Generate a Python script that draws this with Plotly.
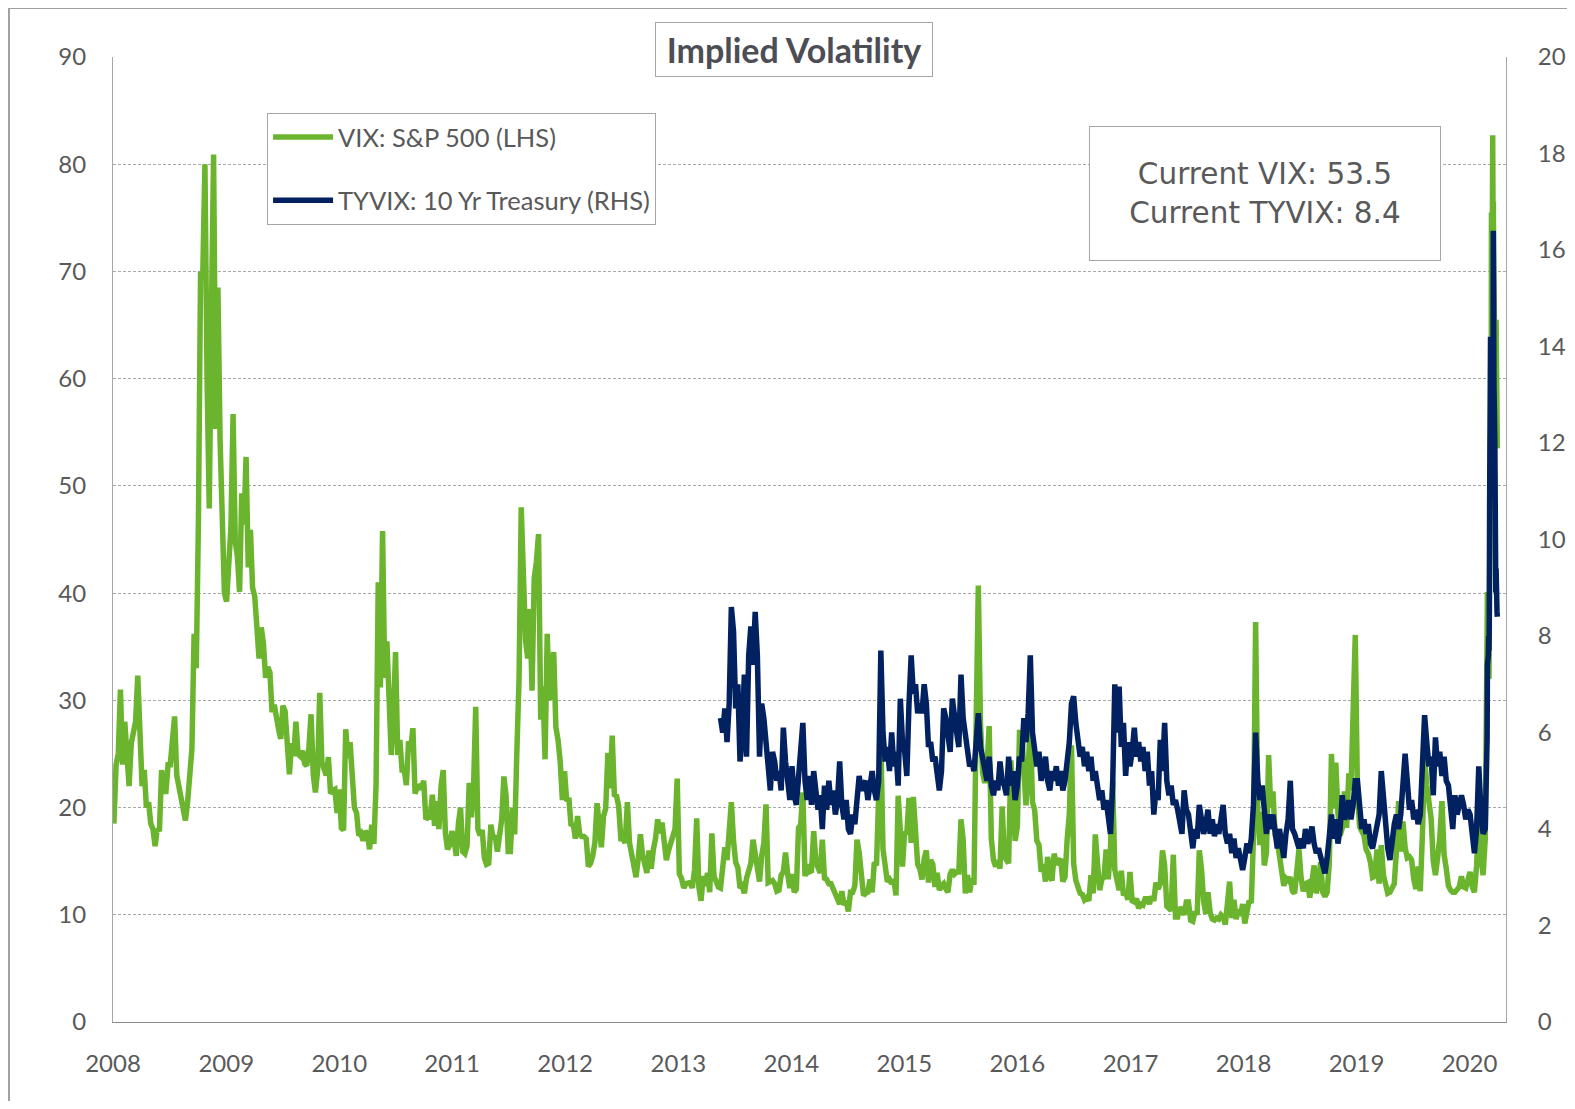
import pandas as pd
import plotly.graph_objects as go

# ---------------- data (weekly Friday readings; daily during the 2020 spike) ----------------
vix_2008 = [18.5, 24, 25, 31,
            24, 28, 25, 22, 26,
            27, 28, 32.3, 26,
            22, 23.5, 20, 20.5,
            18.5, 18, 16.4, 18, 17.8,
            23.5, 21.5, 21.5, 24,
            24, 26, 28.5, 23,
            22, 21, 20, 18.8, 20.5,
            22.5, 25.5, 36.2, 33,
            46.7, 70, 69.5, 80, 59.9,
            47.9, 66, 80.9, 55.3,
            68.5, 54.3, 45, 40]
vix_2009 = [39.2, 42.8, 46.1, 56.7, 44.8,
            43.4, 40.1, 49.3, 46.4,
            52.7, 42.4, 45.9, 40.5,
            39.7, 36.5, 33.9, 36.8,
            35.3, 32.1, 33.1, 32.6, 28.9,
            29.6, 28.2, 27.3, 26.4,
            29.5, 29.0, 25.0, 23.1, 26.0,
            24.8, 28.0, 25.0, 24.8,
            25.3, 24.1, 23.9, 25.6,
            28.7, 23.1, 21.4, 23.4, 30.7,
            24.2, 23.4, 23.0, 24.7,
            21.3, 21.6, 21.7, 19.5]
vix_2010 = [21.7, 18.1, 17.9, 27.3, 24.6,
            26.1, 22.7, 20.0, 19.5,
            17.4, 17.6, 16.9, 17.8,
            17.5, 16.1, 18.4, 16.6, 22.1,
            41.0, 31.2, 45.8, 32.1,
            35.5, 28.6, 24.9, 28.5,
            34.5, 24.9, 26.3, 23.5, 23.5,
            22.1, 26.2, 25.5, 27.4,
            21.3, 21.9, 22.0, 21.7,
            22.5, 18.9, 19.1, 19.1, 21.2,
            18.3, 20.6, 18.0, 22.0,
            23.5, 17.6, 16.1, 16.5, 17.8]
vix_2011 = [17.1, 15.5, 18.5, 20.0,
            15.9, 15.7, 16.4, 22.3,
            19.1, 21.9, 29.4, 18.0,
            17.4, 17.9, 15.3, 14.7, 14.8,
            18.4, 17.1, 17.4, 15.9,
            17.9, 18.9, 22.9, 21.1,
            15.9, 15.9, 20.0, 17.5, 25.3,
            32.0, 48.0, 43.1, 35.6,
            33.9, 38.5, 30.9, 41.4, 42.9,
            45.5, 28.2, 31.3, 24.5,
            36.2, 30.0, 32.8, 34.5,
            27.5, 26.3, 24.3, 20.7, 23.4]
vix_2012 = [20.6, 20.9, 18.3, 18.5,
            17.1, 19.2, 17.5, 17.3,
            17.3, 17.1, 14.5, 14.8, 15.5,
            16.7, 20.4, 18.4, 16.3,
            19.2, 19.9, 25.1, 21.8,
            26.7, 21.2, 21.1, 20.1, 17.1,
            17.1, 16.7, 20.5, 16.7,
            15.6, 14.7, 13.5, 15.2, 17.5,
            15.6, 14.5, 13.9, 16.0,
            14.3, 16.1, 17.1, 18.9,
            17.6, 18.6, 17.0, 15.1, 16.0,
            16.6, 17.0, 18.0, 22.7]
vix_2013 = [13.8, 13.4, 12.5, 12.9,
            12.9, 13.0, 12.5, 14.2,
            19.0, 12.6, 11.3, 13.6, 12.7,
            13.9, 12.1, 17.6, 13.6,
            12.9, 12.6, 12.5, 14.0, 16.3,
            15.1, 17.2, 20.5, 16.9,
            14.9, 14.4, 12.5, 12.7,
            12.0, 13.4, 14.4, 14.8, 17.0,
            15.4, 14.2, 13.1, 15.5,
            16.7, 20.3, 13.0, 13.1,
            13.2, 12.9, 12.2, 12.3, 13.7,
            14.0, 15.8, 13.8, 12.5]
vix_2014 = [13.8, 12.1, 12.4, 18.1, 18.4,
            21.4, 13.6, 14.7, 14.0,
            14.1, 17.8, 15.0, 14.4,
            13.9, 17.0, 13.4, 13.3,
            12.9, 12.9, 12.4, 12.0, 11.4,
            11.0, 12.2, 10.9, 11.3,
            10.3, 12.1, 12.1, 12.7,
            17.0, 15.8, 13.2, 11.8, 12.0,
            12.1, 13.3, 12.1, 14.9,
            14.6, 21.2, 26.3, 16.1, 14.0,
            13.1, 13.3, 12.9, 13.3,
            11.8, 21.1, 16.5, 14.5]
vix_2015 = [17.8, 17.6, 20.9, 16.7, 21.0,
            17.3, 14.7, 14.3, 13.3,
            15.2, 16.0, 13.0, 15.1,
            14.7, 12.6, 13.9, 12.3,
            12.7, 12.9, 12.4, 12.1, 13.8,
            14.2, 13.8, 14.0, 14.0,
            18.9, 17.0, 12.0, 13.7, 12.1,
            13.4, 12.8, 28.0, 40.7,
            27.8, 23.2, 22.3, 23.6,
            27.6, 17.1, 15.1, 14.5, 15.1,
            14.3, 20.1, 15.5, 15.1,
            14.8, 24.4, 20.7, 16.9]
vix_2016 = [18.2, 27.0, 27.0, 22.3, 20.2,
            23.4, 28.1, 20.5, 19.8,
            16.9, 16.5, 14.0, 14.7,
            13.1, 15.4, 13.6, 13.2, 15.7,
            14.7, 15.0, 15.2, 13.1,
            13.5, 17.0, 19.4, 25.8,
            14.8, 13.2, 12.7, 12.0, 11.9,
            11.4, 11.6, 11.3, 13.7,
            12.0, 17.5, 15.4, 12.3, 13.3,
            13.5, 16.1, 13.3, 16.2,
            22.5, 14.2, 12.9, 12.3,
            14.1, 11.8, 12.2, 11.4, 14.0]
vix_2017 = [11.3, 11.2, 11.5, 10.6,
            11.0, 10.9, 11.5, 11.5,
            11.0, 11.7, 11.3, 13.0, 12.4,
            12.9, 16.0, 14.6, 10.8,
            10.6, 10.4, 15.6, 9.8,
            9.8, 10.7, 10.4, 10.0, 11.2,
            11.2, 9.5, 9.4, 10.3,
            10.0, 16.0, 14.3, 11.3,
            10.1, 12.1, 10.2, 9.6, 9.5,
            9.7, 9.6, 10.0, 9.8,
            9.1, 11.3, 13.1, 9.7,
            11.4, 9.6, 10.5, 9.9, 11.0]
vix_2018 = [9.2, 10.2, 11.3, 11.1,
            17.3, 37.3, 19.5, 16.5,
            19.6, 14.6, 15.8, 24.9, 20.0,
            21.5, 17.4, 16.9, 15.4,
            14.8, 12.7, 13.4, 13.2,
            13.5, 12.2, 12.0, 13.8, 16.1,
            13.4, 12.2, 12.9, 13.0,
            11.6, 13.2, 14.6, 12.0, 12.9,
            14.9, 12.1, 11.7, 12.1,
            14.8, 25.0, 19.9, 24.2,
            19.5, 17.4, 18.1, 21.5, 18.1,
            23.2, 21.6, 30.1, 36.1]
vix_2019 = [21.4, 18.2, 17.8, 17.4,
            16.1, 15.7, 14.9, 13.5,
            13.6, 16.1, 12.9, 16.5, 13.7,
            12.8, 12.0, 12.1, 12.7,
            12.9, 16.0, 20.6, 15.9, 18.7,
            16.3, 15.3, 15.4, 15.1,
            13.3, 12.4, 14.5, 12.2,
            17.6, 24.6, 22.1, 19.9, 19.0,
            15.0, 13.7, 15.3, 17.2,
            20.6, 15.6, 14.3, 12.7,
            12.3, 12.1, 12.1, 12.3, 12.6,
            13.6, 12.6, 12.5, 13.4]
vix_2020_weekly = [14.0, 12.6, 12.1, 14.6, 18.8, 15.5, 13.7, 17.1]
vix_2020_daily = [25.0, 27.9, 27.6, 39.2, 40.1,
                  33.4, 36.8, 32.0, 39.6, 41.9,
                  54.5, 47.3, 53.9, 75.5, 57.8,
                  82.7, 75.9, 76.5, 72.0, 66.0,
                  61.6, 61.7, 64.0, 61.0, 65.5,
                  57.1, 53.5]

tyvix_2013 = [6.3, 6.0, 6.5,
              5.8, 6.6, 8.6, 8.1,
              6.5, 7.0, 5.4, 6.0,
              7.2, 5.5, 7.6, 8.2, 7.4,
              8.5, 7.6, 5.5, 6.6,
              6.3, 5.7, 5.1, 4.8,
              5.6, 5.4, 5.0, 5.2, 4.8,
              6.1, 5.4, 5.0, 4.6]
tyvix_2014 = [5.3, 4.7, 4.5, 5.0, 5.6,
              6.2, 5.0, 4.6, 5.1,
              4.5, 5.2, 4.8, 4.4,
              4.7, 4.0, 4.9, 4.4,
              5.0, 4.5, 4.8, 4.3, 4.6,
              5.4, 4.5, 4.2, 4.6,
              4.0, 3.9, 4.3, 4.1,
              4.6, 5.1, 4.8, 4.9, 5.0,
              4.6, 5.0, 5.2, 4.8,
              4.6, 5.0, 7.7, 6.0, 5.4,
              5.7, 5.2, 6.0, 5.3,
              5.6, 4.9, 6.7, 5.8]
tyvix_2015 = [5.6, 5.1, 6.6, 7.6, 6.8,
              7.0, 6.4, 6.6, 6.4,
              7.0, 6.6, 5.7, 5.8,
              5.4, 5.5, 5.0, 4.8,
              5.2, 6.5, 6.3, 5.8, 5.6,
              6.7, 6.2, 6.0, 5.7,
              7.2, 6.3, 5.9, 5.5, 5.3,
              5.4, 5.2, 5.8, 6.4,
              5.7, 5.5, 5.3, 5.0,
              5.5, 4.9, 4.7, 5.0, 4.8,
              5.4, 5.0, 4.9, 4.7,
              5.5, 4.9, 5.2, 4.6]
tyvix_2016 = [4.9, 5.5, 5.4, 6.3, 5.8,
              6.4, 7.6, 6.0, 5.6,
              5.3, 5.6, 5.0, 5.2,
              5.5, 5.0, 4.8, 5.2, 5.0,
              5.3, 4.9, 5.2, 4.8,
              5.0, 5.4, 5.8, 6.6,
              6.75, 6.2, 5.8, 5.5, 5.7,
              5.3, 5.6, 5.2, 5.5,
              5.0, 5.2, 4.9, 4.6, 4.8,
              4.4, 4.6, 4.3, 3.9,
              4.9, 7.0, 6.0, 6.95,
              5.7, 6.2, 5.1, 5.8, 5.3]
tyvix_2017 = [5.6, 6.1, 5.5, 5.8,
              5.4, 5.7, 5.2, 5.6,
              4.9, 5.2, 4.3, 4.8, 4.6,
              5.85, 5.2, 6.2, 5.0,
              4.7, 4.9, 4.5, 4.6,
              4.4, 4.2, 3.9, 4.8, 4.4,
              4.3, 3.9, 3.6, 4.0,
              3.8, 4.5, 4.2, 3.9,
              4.1, 4.4, 3.9, 4.2, 3.85,
              4.1, 3.9, 4.3, 4.5,
              3.9, 3.7, 3.9, 3.5,
              3.8, 3.4, 3.6, 3.3, 3.15]
tyvix_2018 = [3.4, 3.7, 3.5, 3.8,
              4.5, 6.0, 5.0, 4.6,
              4.9, 4.2, 3.9, 4.3, 4.0,
              4.3, 3.8, 3.6, 4.0,
              3.6, 3.4, 3.9, 4.2,
              5.0, 4.0, 3.9, 3.7, 3.6,
              3.8, 3.6, 4.0, 3.7,
              3.8, 4.05, 3.7, 3.5, 3.6,
              3.4, 3.2, 3.08, 3.4,
              3.9, 4.3, 3.8, 4.2,
              3.7, 4.0, 4.7, 4.2, 4.3,
              4.6, 4.2, 4.5, 5.0]
tyvix_2019 = [5.0, 4.5, 4.0, 4.2,
              3.9, 4.1, 3.7, 3.6,
              3.8, 4.0, 4.3, 5.2, 4.6,
              4.0, 3.6, 3.36, 3.9,
              4.1, 4.3, 4.0, 4.3, 4.8,
              5.56, 5.0, 4.4, 4.6,
              4.2, 4.4, 4.1, 4.3,
              5.3, 6.36, 5.8, 5.3, 5.5,
              4.7, 5.9, 5.3, 5.6,
              5.1, 5.5, 5.0, 4.9,
              4.5, 4.0, 4.7, 4.3, 4.5,
              4.7, 4.5, 4.2, 4.4]
tyvix_2020_weekly = [4.3, 3.9, 3.5, 4.0, 5.3, 4.4, 3.9, 4.0]
tyvix_2020_daily = [4.7, 5.0, 5.1, 5.9, 7.4,
                    7.6, 8.0, 7.7, 8.4, 10.7,
                    14.2, 11.8, 11.0, 13.0, 11.5,
                    14.0, 13.0, 16.4, 15.0, 13.2,
                    12.0, 10.0, 9.5, 8.9, 9.4,
                    8.5, 8.4]

year_ticks = list(range(2008, 2021))
vix_years = {2008: vix_2008, 2009: vix_2009, 2010: vix_2010, 2011: vix_2011,
             2012: vix_2012, 2013: vix_2013, 2014: vix_2014, 2015: vix_2015,
             2016: vix_2016, 2017: vix_2017, 2018: vix_2018, 2019: vix_2019}
tyvix_years = {2014: tyvix_2014, 2015: tyvix_2015, 2016: tyvix_2016,
               2017: tyvix_2017, 2018: tyvix_2018, 2019: tyvix_2019}


def weekly(start, n):
    return list(pd.date_range(start, periods=n, freq="W-FRI"))


# ---------------- build series ----------------
vix_x, vix_y = [], []
for yr, vals in vix_years.items():
    vix_x += weekly(f"{yr}-01-01", len(vals))
    vix_y += vals
vix_x += weekly("2020-01-01", len(vix_2020_weekly))
vix_y += vix_2020_weekly
vix_x += list(pd.bdate_range("2020-02-24", periods=len(vix_2020_daily)))
vix_y += vix_2020_daily

ty_x = weekly("2013-05-17", len(tyvix_2013))
ty_y = list(tyvix_2013)
for yr, vals in tyvix_years.items():
    ty_x += weekly(f"{yr}-01-01", len(vals))
    ty_y += vals
ty_x += weekly("2020-01-01", len(tyvix_2020_weekly))
ty_y += tyvix_2020_weekly
ty_x += list(pd.bdate_range("2020-02-24", periods=len(tyvix_2020_daily)))
ty_y += tyvix_2020_daily

GREEN = "#6BB42D"
NAVY = "#022160"
GRID = "#A6A6A6"
TXT = "#595959"

fig = go.Figure()
fig.add_trace(go.Scatter(x=vix_x, y=vix_y, mode="lines", name="VIX: S&P 500 (LHS)",
                         line=dict(color=GREEN, width=5.5), legendgroup="a"))
fig.add_trace(go.Scatter(x=ty_x, y=ty_y, mode="lines", name="TYVIX: 10 Yr Treasury (RHS)",
                         line=dict(color=NAVY, width=5.5), yaxis="y2", legendgroup="b"))

tickfont = dict(family="Lato, Open Sans, sans-serif", size=24, color=TXT)

# the page body has an 8px default margin, so the figure is sized/offset to compensate
fig.update_layout(
    width=1559, height=1093,
    margin=dict(l=105, r=61, t=49, b=79),
    paper_bgcolor="white", plot_bgcolor="white",
    showlegend=True,
    legend=dict(x=0.1106, y=0.942, xanchor="left", yanchor="top",
                bgcolor="white", bordercolor=GRID, borderwidth=1,
                font=dict(family="Lato, Open Sans, sans-serif", size=25.5, color=TXT),
                traceorder="grouped", tracegroupgap=27, itemwidth=60),
    xaxis=dict(type="date", range=["2008-01-01", "2020-04-28"],
               tickvals=[f"{y}-01-01" for y in year_ticks], ticktext=[str(y) for y in year_ticks],
               showgrid=False, showline=True, linecolor="#8C8C8C", linewidth=1,
               ticks="", zeroline=False, tickfont=tickfont, ticklabelstandoff=20,
               automargin=False),
    yaxis=dict(range=[0, 90], dtick=10, tick0=0, showgrid=True, gridcolor=GRID,
               griddash="3px,2px", gridwidth=1, showline=True, linecolor=GRID,
               ticks="", zeroline=False, tickfont=tickfont, ticklabelstandoff=21,
               automargin=False),
    yaxis2=dict(range=[0, 20], dtick=2, tick0=0, overlaying="y", side="right",
                showgrid=False, showline=True, linecolor=GRID, ticks="",
                zeroline=False, tickfont=tickfont, ticklabelstandoff=26,
                automargin=False),
)

fig.add_annotation(xref="paper", yref="paper", x=0.489, y=1.0078,
                   xanchor="center", yanchor="middle", showarrow=False,
                   text="<b>Implied Volatility</b>",
                   font=dict(family="Lato, Open Sans, sans-serif", size=34, color="#4D4D55"),
                   bgcolor="white", bordercolor=GRID, borderwidth=1,
                   width=274, height=51)
fig.add_annotation(xref="paper", yref="paper", x=0.827, y=0.8585,
                   xanchor="center", yanchor="middle", showarrow=False,
                   text="Current VIX: 53.5<br>Current TYVIX: 8.4",
                   font=dict(family="DejaVu Sans, Verdana, sans-serif", size=29.5, color=TXT),
                   bgcolor="white", bordercolor=GRID, borderwidth=1,
                   width=348, height=131, align="center", valign="middle")

# outer chart-area frame
fig.add_shape(type="rect", xref="paper", yref="paper",
              x0=-0.0747, x1=1.06, y0=-0.11, y1=1.0508,
              line=dict(color="#A0A0A0", width=2), fillcolor="rgba(0,0,0,0)")

fig.write_html("out.html")
